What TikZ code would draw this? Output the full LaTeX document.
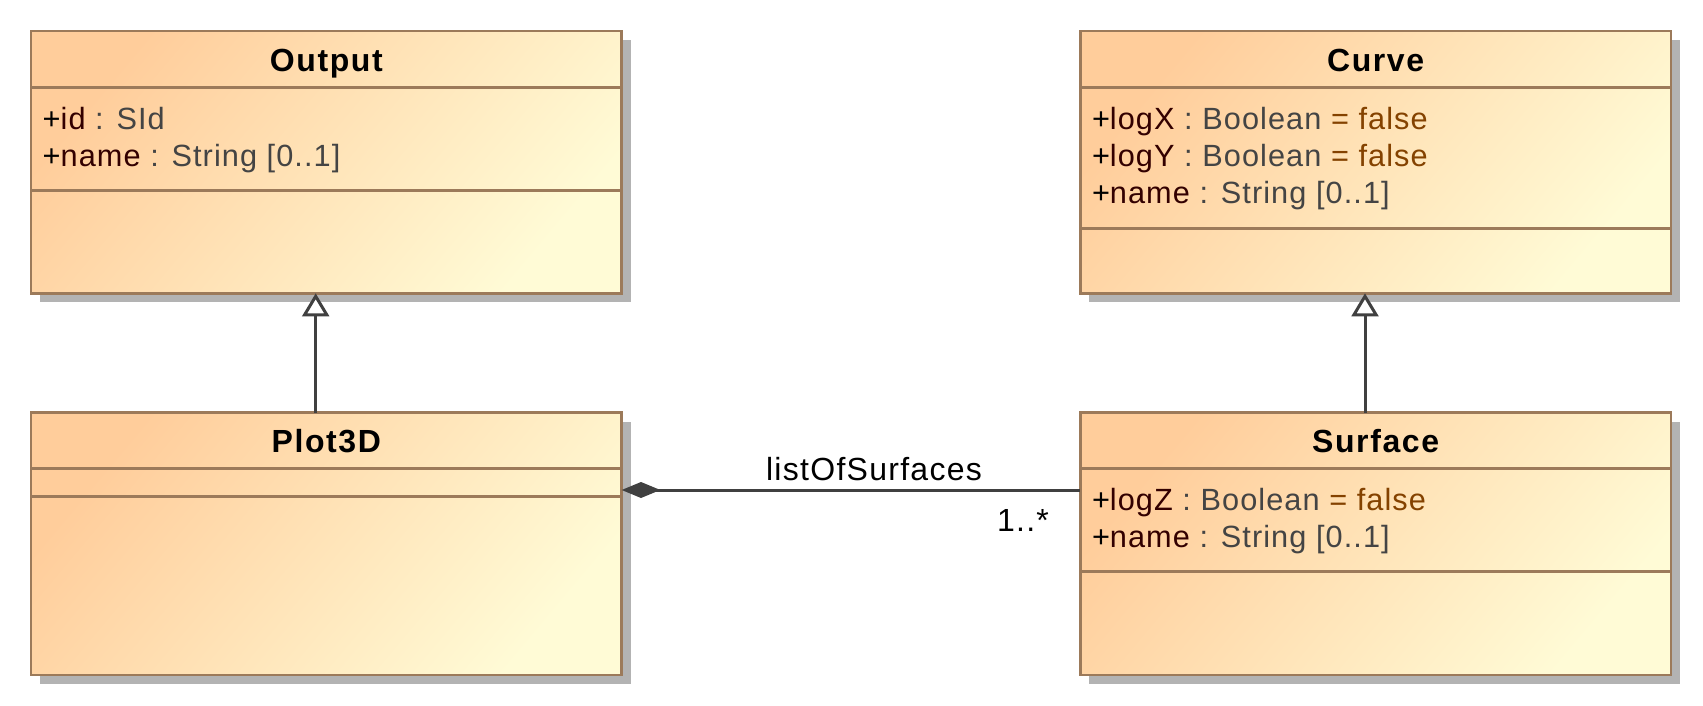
\documentclass[tikz,border=0pt]{standalone}
\usepackage{fontspec}
\setmainfont{Liberation Sans}
\newfontfamily\attrfont{Liberation Sans}[LetterSpace=3.5]
\newfontfamily\titlefont{Liberation Sans}[LetterSpace=5]
\newfontfamily\lblfont{Liberation Sans}[LetterSpace=4]
\usetikzlibrary{arrows.meta,shadows,calc}
\definecolor{border}{HTML}{9C7A5A}
\definecolor{gradA}{HTML}{FFCD9B}
\definecolor{gradB}{HTML}{FFFBD6}
\definecolor{shadowgray}{HTML}{B3B3B3}
\definecolor{edge}{HTML}{404040}
\definecolor{namecol}{HTML}{330000}
\definecolor{typecol}{HTML}{444444}
\definecolor{valcol}{HTML}{844200}
\tikzset{
  classbox/.style={draw=border, line width=2.6pt, rectangle, inner sep=0pt, outer sep=0pt,
    minimum width=590.7pt, minimum height=262.3pt, anchor=north west,
    left color=gradA, right color=gradB, shading angle=50,
    general shadow={fill=shadowgray, shadow xshift=9pt, shadow yshift=-9pt}},
  divider/.style={draw=border, line width=2.6pt},
  title/.style={anchor=base, inner sep=0pt, font=\titlefont\bfseries\fontsize{32}{38}\selectfont},
  attr/.style={anchor=base west, inner sep=0pt, font=\attrfont\fontsize{30.7}{37}\selectfont, text=namecol},
  lbl/.style={anchor=base, inner sep=0pt, font=\lblfont\fontsize{32}{38}\selectfont},
  gen/.style={draw=edge, line width=3pt, -{Triangle[open, fill=white, length=23pt, width=26.7pt]}},
  comp/.style={draw=edge, line width=3pt, {Diamond[length=38.6pt, width=16pt, fill=edge]}-},
}
\newcommand\typ[1]{\textcolor{typecol}{#1}}
\newcommand\val[1]{\textcolor{valcol}{#1}}
\begin{document}
\begin{tikzpicture}[x=1pt,y=-1pt]
\useasboundingbox[fill=white] (0,0) rectangle (1703,706);
% class boxes
\node[classbox] (output) at (31,31) {};
\node[classbox] (plot) at (31,412.7) {};
\node[classbox] (curve) at (1080.3,31) {};
\node[classbox] (surface) at (1080.3,412.7) {};
% compartments
\draw[divider] ($(output.north west)+(0,56.3)$) -- ($(output.north east)+(0,56.3)$);
\draw[divider] ($(output.north west)+(0,159.7)$) -- ($(output.north east)+(0,159.7)$);
\draw[divider] ($(plot.north west)+(0,55.6)$) -- ($(plot.north east)+(0,55.6)$);
\draw[divider] ($(plot.north west)+(0,84)$) -- ($(plot.north east)+(0,84)$);
\draw[divider] ($(curve.north west)+(0,56.3)$) -- ($(curve.north east)+(0,56.3)$);
\draw[divider] ($(curve.north west)+(0,197.3)$) -- ($(curve.north east)+(0,197.3)$);
\draw[divider] ($(surface.north west)+(0,55.6)$) -- ($(surface.north east)+(0,55.6)$);
\draw[divider] ($(surface.north west)+(0,158.9)$) -- ($(surface.north east)+(0,158.9)$);
% titles
\node[title] (outputT) at ($(output.north)+(0,40.5)$) {Output};
\node[title] (plotT) at ($(plot.north)+(0,39.5)$) {Plot3D};
\node[title] (curveT) at ($(curve.north)+(0,40.5)$) {Curve};
\node[title] (surfaceT) at ($(surface.north)+(0,39.5)$) {Surface};
% attributes
\node[attr] (outputA1) at ($(output.north west)+(11.5,98.3)$) {{\color{black}+}id \typ{: SId}};
\node[attr] (outputA2) at ($(output.north west)+(11.5,135.5)$) {{\color{black}+}name \typ{: String [0..1]}};
\node[attr] (curveA1) at ($(curve.north west)+(11.5,98.3)$) {{\color{black}+}logX \typ{: Boolean} \val{= false}};
\node[attr] (curveA2) at ($(curve.north west)+(11.5,135.5)$) {{\color{black}+}logY \typ{: Boolean} \val{= false}};
\node[attr] (curveA3) at ($(curve.north west)+(11.5,172.3)$) {{\color{black}+}name \typ{: String [0..1]}};
\node[attr] (surfaceA1) at ($(surface.north west)+(11.5,97.8)$) {{\color{black}+}logZ \typ{: Boolean} \val{= false}};
\node[attr] (surfaceA2) at ($(surface.north west)+(11.5,134.9)$) {{\color{black}+}name \typ{: String [0..1]}};
% generalizations
\draw[gen] ($(plot.north west)+(284.7,0)$) -- ($(output.south west)+(284.7,0)$);
\draw[gen] ($(surface.north west)+(284.7,0)$) -- ($(curve.south west)+(284.7,0)$);
% composition
\coordinate (cy) at ($(plot.north west)+(0,77.3)$);
\draw[comp] (cy -| plot.east) -- (cy -| surface.west);
\node[lbl] (role) at (874,480) {listOfSurfaces};
\node[lbl] (mult) at (1023,531.7) {1..*};
\end{tikzpicture}
\end{document}
